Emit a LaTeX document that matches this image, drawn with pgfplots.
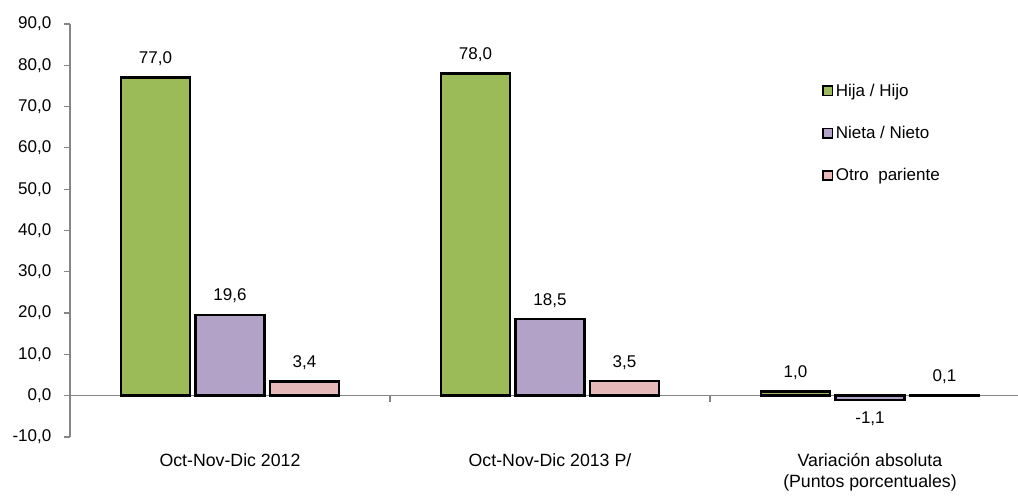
\documentclass[border=0pt]{standalone}
\usepackage{fontspec}
\setmainfont{Liberation Sans}
\usepackage{pgfplots}
\pgfplotsset{compat=1.18}
\definecolor{cgreen}{HTML}{9BBB59}
\definecolor{cpurple}{HTML}{B2A2C7}
\definecolor{cpink}{HTML}{E6B9B8}
\definecolor{axgray}{HTML}{868686}
\newcommand{\fz}{\fontsize{12.75}{15}\selectfont}
\newcommand{\fx}{\fontsize{13.3}{15.5}\selectfont}
\begin{document}
\begin{tikzpicture}
\begin{axis}[
 name=ax,
 scale only axis, width=711pt, height=309.75pt,
 xmin=-0.5, xmax=2.4625, ymin=-10, ymax=90,
 axis x line*=middle, axis y line*=left,
 axis line style={axgray, line width=0.9pt},
 ytick={-10,0,...,90},
 tick style={axgray, line width=0.9pt},
 tick align=outside, major tick length=4.5pt,
 yticklabel style={xshift=-6pt, /pgf/number format/fixed, /pgf/number format/fixed zerofill, /pgf/number format/precision=1, /pgf/number format/use comma, /pgf/number format/assume math mode=true},
 tick label style={font=\fz, black},
 xtick={0.5,1.5},
 xticklabels={},
 extra x ticks={0,1,2},
 extra x tick labels={Oct-Nov-Dic 2012, Oct-Nov-Dic 2013 P/, {Variación absoluta\\(Puntos porcentuales)}},
 extra x tick style={major tick length=0pt, tick style={draw=none}, ticklabel style={font=\fx, align=center, yshift=-40pt}},
 ybar, bar width=0.215,
 nodes near coords,
 nodes near coords style={font=\fz, black, inner sep=8pt, /pgf/number format/fixed, /pgf/number format/fixed zerofill, /pgf/number format/precision=1, /pgf/number format/use comma, /pgf/number format/assume math mode=true},
 legend style={draw=none, font=\fz, at={(0.789,0.869)}, anchor=north west, row sep=17pt, legend cell align=left},
 legend image code/.code={\draw[#1, line width=1.2pt] (0pt,-3.5pt) rectangle (7pt,3.5pt);},
 clip=false,
]
\addplot[fill=cgreen, draw=black, line width=1.8pt, bar shift=-0.233] coordinates {(0,77.0) (1,78.0) (2,1.0)};
\addplot[fill=cpurple, draw=black, line width=1.8pt, bar shift=0] coordinates {(0,19.6) (1,18.5) (2,-1.1)};
\addplot[fill=cpink, draw=black, line width=1.8pt, bar shift=0.233] coordinates {(0,3.4) (1,3.5) (2,0.1)};
\legend{Hija / Hijo, Nieta / Nieto, Otro\ \ pariente}
\coordinate (o) at (rel axis cs:0,0);
\end{axis}
\pgfresetboundingbox
\path ([shift={(-52.5pt,-45.75pt)}]o) rectangle ([shift={(711pt,327.75pt)}]o);
\end{tikzpicture}
\end{document}
